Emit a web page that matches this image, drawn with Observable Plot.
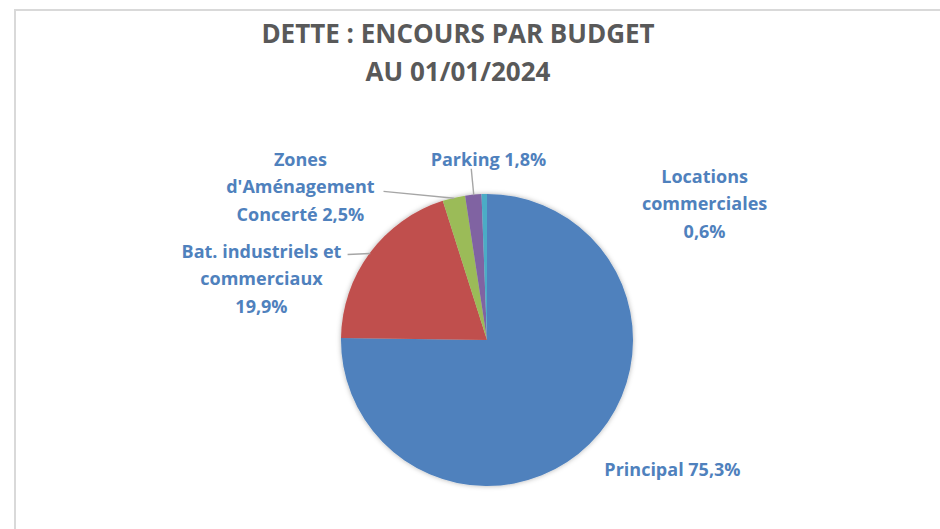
<!DOCTYPE html>
<html><head><meta charset="utf-8">
<script src="https://cdn.jsdelivr.net/npm/d3@7"></script>
<script src="https://cdn.jsdelivr.net/npm/@observablehq/plot@0.6"></script>
<style>
body{margin:0;background:#fff;}
#frame{position:relative;width:940px;height:529px;overflow:hidden;background:#fff;}
#border{position:absolute;left:14px;top:9px;right:-10px;bottom:-10px;border-left:2px solid #d9d9d9;border-top:2px solid #d9d9d9;}
#title{position:relative;height:95px;box-sizing:border-box;padding-top:14px;width:916px;text-align:center;font:bold 26px/38px "Open Sans", sans-serif;color:#595959;}
#chart{position:relative;height:434px;}
</style></head><body>
<div id="frame"><div id="border"></div>
<div id="title">DETTE : ENCOURS PAR BUDGET<br>AU 01/01/2024</div>
<div id="chart"></div></div>
<script>
// ---- data ----
const categories = ["Principal", "Bat. industriels et commerciaux", "Zones d'Aménagement Concerté", "Parking", "Locations commerciales"];
const shares = [75.3, 19.9, 2.5, 1.8, 0.6];
const colors = ["#4f81bd", "#c0504d", "#9bbb59", "#8064a2", "#4bacc6"];
const labelNames = ["Principal", "Bat. industriels et\ncommerciaux", "Zones\nd'Aménagement\nConcerté", "Parking", "Locations\ncommerciales"];
const labelSeparators = [" ", "\n", " ", " ", "\n"];

// ---- label layout (polar: degrees clockwise from 12 o'clock, radius in pie radii) ----
const labelPolar = [[124.5, 1.537], [285.8, 1.609], [309.8, 1.668], [0.3, 1.253], [57.4, 1.765]];
const leaderPolar = [null, [301.6, 1.125], [325.1, 1.245], [354.6, 1.182], null];

const fmt = v => v.toFixed(1).replace(".", ",") + "%";
const table = categories.map((c, i) => ({category: c, share: shares[i], color: colors[i], i}));
const arcs = d3.pie().sort(null).value(d => d.share)(table);
const polar = (deg, rho) => ({x: rho * Math.sin(deg * Math.PI / 180), y: rho * Math.cos(deg * Math.PI / 180)});

const labels = table.map((d, i) => {
  const p = polar(labelPolar[i][0], labelPolar[i][1]);
  return {...p, text: labelNames[i] + labelSeparators[i] + fmt(d.share)};
});
const leaders = [];
table.forEach((d, i) => {
  if (!leaderPolar[i]) return;
  const a = arcs[i];
  const mid = (a.startAngle + a.endAngle) / 2 * 180 / Math.PI;
  const p1 = polar(leaderPolar[i][0], leaderPolar[i][1]);
  const p2 = polar(mid, 1);
  leaders.push({x1: p1.x, y1: p1.y, x2: p2.x, y2: p2.y});
});

function pieSlices(index, scales) {
  const x = scales.x, y = scales.y;
  const cx = x(0), cy = y(0), r = x(1) - x(0);
  const g = d3.create("svg:g").attr("transform", `translate(${cx},${cy})`);
  const f = g.append("defs").append("filter").attr("id", "pieShadow")
    .attr("x", "-20%").attr("y", "-20%").attr("width", "140%").attr("height", "140%");
  f.append("feDropShadow").attr("dx", 0).attr("dy", 0).attr("stdDeviation", 2.5)
    .attr("flood-color", "#000").attr("flood-opacity", 0.3);
  const arc = d3.arc().innerRadius(0).outerRadius(r);
  g.append("g").attr("filter", "url(#pieShadow)")
    .selectAll("path").data(arcs).join("path")
    .attr("d", arc).attr("fill", d => d.data.color);
  return g.node();
}

const W = 940, H = 434, CX = 487, CY = 245, R = 146;
const chart = Plot.plot({
  width: W, height: H, margin: 0,
  x: {domain: [-CX / R, (W - CX) / R], axis: null},
  y: {domain: [-(H - CY) / R, CY / R], axis: null},
  style: {background: "transparent", fontFamily: "'Open Sans', sans-serif", overflow: "visible"},
  marks: [
    pieSlices,
    Plot.link(leaders, {x1: "x1", y1: "y1", x2: "x2", y2: "y2", stroke: "#a6a6a6", strokeWidth: 1.4}),
    Plot.text(labels, {x: "x", y: "y", text: "text", fill: "#4f81bd", fontSize: 18, fontWeight: "bold", lineHeight: 1.53})
  ]
});
document.getElementById("chart").appendChild(chart);
</script></body></html>
